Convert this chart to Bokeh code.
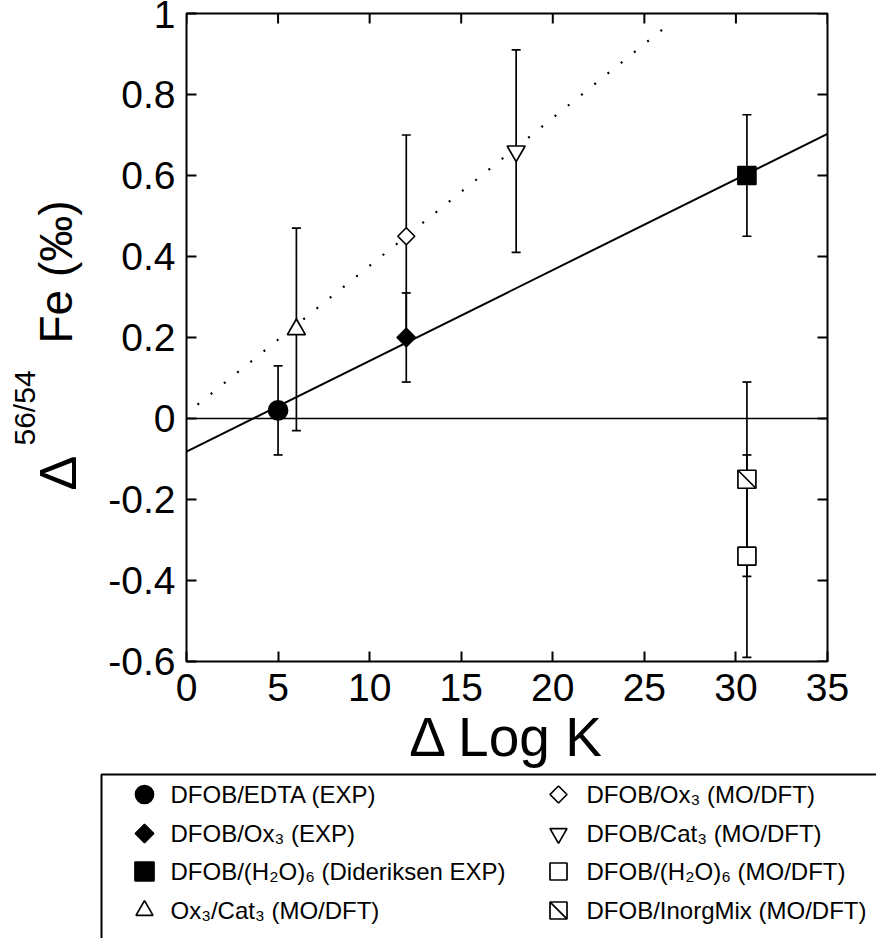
import math
from bokeh.plotting import figure
from bokeh.models import (ColumnDataSource, Range1d, FixedTicker, Whisker, TeeHead, Span)
from bokeh.layouts import column, row
from bokeh.core.properties import value
from bokeh.embed import file_html
from bokeh.resources import INLINE

FONT = "Liberation Sans"

# ---------------- data ----------------
series_names = [
    "DFOB/EDTA (EXP)",
    "DFOB/Ox\u2083 (EXP)",
    "DFOB/(H\u2082O)\u2086 (Dideriksen EXP)",
    "Ox\u2083/Cat\u2083 (MO/DFT)",
    "DFOB/Ox\u2083 (MO/DFT)",
    "DFOB/Cat\u2083 (MO/DFT)",
    "DFOB/(H\u2082O)\u2086 (MO/DFT)",
    "DFOB/InorgMix (MO/DFT)",
]
delta_logk = [5, 12, 30.6, 6, 12, 18, 30.6, 30.6]
delta_fe = [0.02, 0.20, 0.60, 0.22, 0.45, 0.66, -0.34, -0.15]
err_upper = [0.13, 0.31, 0.75, 0.47, 0.70, 0.91, -0.09, 0.09]
err_lower = [-0.09, 0.09, 0.45, -0.03, 0.20, 0.41, -0.59, -0.39]

# trend lines as drawn in the reference
exp_fit_x = [0, 35]
exp_fit_y = [-0.082, 0.703]
mo_fit_x = [0.6, 26.6]
mo_fit_y = [0.034, 0.983]

x_ticks = [0, 5, 10, 15, 20, 25, 30, 35]
x_tick_text = ["0", "5", "10", "15", "20", "25", "30", "35"]
y_ticks = [-0.6, -0.4, -0.2, 0, 0.2, 0.4, 0.6, 0.8, 1.0]
y_tick_text = ["-0.6", "-0.4", "-0.2", "0", "0.2", "0.4", "0.6", "0.8", "1"]

x_title = "\u0394 Log K"
y_title_parts = ["\u0394", "56/54", "Fe (\u2030)"]

# ---------------- marker styles ----------------
D45 = math.pi / 4
styles = [
    dict(marker="circle", size=19, fill="black", angle=0.0),
    dict(marker="square", size=13, fill="black", angle=D45),
    dict(marker="square", size=18, fill="black", angle=0.0),
    dict(marker="triangle", size=18, fill="white", angle=0.0),
    dict(marker="square", size=12, fill="white", angle=D45),
    dict(marker="inverted_triangle", size=18, fill="white", angle=0.0),
    dict(marker="square", size=18, fill="white", angle=0.0),
    dict(marker="square", size=18, fill="white", angle=0.0),
]
HATCHED = 7

# ---------------- layout constants (pixels) ----------------
W, H = 876, 938
LEFT_W = 95          # strip holding the y title
TOP_B, BOT_B = 13, 109
MAIN_H = 770
RIGHT_B = 49
Y0, Y1 = -0.6, 1.0
X0, X1 = 0, 35

yr = Range1d(Y0, Y1)

# ---------------- main plot ----------------
p = figure(width=W - LEFT_W, height=MAIN_H, x_range=Range1d(X0, X1), y_range=yr,
           toolbar_location=None, output_backend="svg",
           min_border_left=186 - LEFT_W, min_border_right=RIGHT_B,
           min_border_top=TOP_B, min_border_bottom=BOT_B)
p.background_fill_color = "white"
p.border_fill_color = "white"
p.outline_line_color = "black"
p.outline_line_width = 2
p.grid.visible = False

for ax, ticks, texts in ((p.xaxis[0], x_ticks, x_tick_text), (p.yaxis[0], y_ticks, y_tick_text)):
    ax.ticker = FixedTicker(ticks=ticks)
    ax.major_label_overrides = {t: s for t, s in zip(ticks, texts)}
    ax.major_label_text_font = FONT
    ax.major_label_text_font_size = "39px"
    ax.major_label_text_color = "black"
    ax.major_tick_in = 10
    ax.major_tick_out = 0
    ax.major_tick_line_width = 2
    ax.major_tick_line_color = "black"
    ax.minor_tick_line_color = None
    ax.axis_line_color = None
p.xaxis[0].major_label_standoff = 12
p.yaxis[0].major_label_standoff = 11

xa = p.xaxis[0]
xa.axis_label = x_title
xa.axis_label_text_font = FONT
xa.axis_label_text_font_size = "55px"
xa.axis_label_text_font_style = "normal"
xa.axis_label_text_color = "black"
xa.axis_label_standoff = 2

# inward ticks on the top and right edges (half of each dash is clipped by the frame)
p.scatter(x_ticks, [Y1] * len(x_ticks), marker="dash", angle=math.pi / 2, size=20,
          line_color="black", line_width=2)
p.scatter([X1] * len(y_ticks), y_ticks, marker="dash", size=20, line_color="black", line_width=2)

p.add_layout(Span(location=0, dimension="width", line_color="black", line_width=1.5))

err_src = ColumnDataSource(dict(base=delta_logk, upper=err_upper, lower=err_lower))
p.add_layout(Whisker(source=err_src, base="base", upper="upper", lower="lower",
                     dimension="height", line_color="black", line_width=1.7, level="underlay",
                     upper_head=TeeHead(size=9, line_width=1.7, line_color="black"),
                     lower_head=TeeHead(size=9, line_width=1.7, line_color="black")))

p.line(exp_fit_x, exp_fit_y, line_color="black", line_width=2)
p.line(mo_fit_x, mo_fit_y, line_color="black", line_width=2.2, line_dash="2 15")

for i, st in enumerate(styles):
    p.scatter([delta_logk[i]], [delta_fe[i]], marker=st["marker"], size=st["size"],
              angle=st["angle"], fill_color=st["fill"], line_color="black", line_width=1.7)
p.scatter([delta_logk[HATCHED]], [delta_fe[HATCHED]], marker="dash", size=24,
          angle=-D45, line_color="black", line_width=1.7)

# ---------------- left strip: y title ----------------
L = figure(width=LEFT_W, height=MAIN_H, x_range=Range1d(0, LEFT_W), y_range=yr,
           toolbar_location=None, output_backend="svg", x_axis_type=None, y_axis_type=None,
           min_border_left=0, min_border_right=0, min_border_top=TOP_B, min_border_bottom=BOT_B)
L.grid.visible = False
L.outline_line_color = None
L.background_fill_color = "white"
L.border_fill_color = "white"

frame_h = MAIN_H - TOP_B - BOT_B
def page_y_to_data(py):
    return Y1 - (py - TOP_B) * (Y1 - Y0) / frame_h

# rotated pieces: anchor = centre of the glyph height, start of the run along the axis
L.text([57], [page_y_to_data(490)], text=[y_title_parts[0]], angle=math.pi / 2,
       text_font=value(FONT), text_font_size="52px", text_align="left", text_baseline="middle")
L.text([24], [page_y_to_data(445)], text=[y_title_parts[1]], angle=math.pi / 2,
       text_font=value(FONT), text_font_size="30px", text_align="left", text_baseline="middle")
L.text([55], [page_y_to_data(343)], text=[y_title_parts[2]], angle=math.pi / 2,
       text_font=value(FONT), text_font_size="46px", text_align="left", text_baseline="middle")

# ---------------- bottom strip: legend ----------------
BH = H - MAIN_H
B = figure(width=W, height=BH, x_range=Range1d(0, W), y_range=Range1d(BH, 0),
           toolbar_location=None, output_backend="svg", x_axis_type=None, y_axis_type=None,
           min_border=0)
B.grid.visible = False
B.outline_line_color = None
B.background_fill_color = "white"
B.border_fill_color = "white"

leg_top = 774 - MAIN_H
B.line([101, 101, W + 5], [BH + 5, leg_top, leg_top], line_color="black", line_width=2)

row_y = [794 - MAIN_H, 833 - MAIN_H, 871 - MAIN_H, 910 - MAIN_H]
leg_sizes = [18, 13, 19, 17, 12, 17, 17, 17]
for i, st in enumerate(styles):
    col, r = divmod(i, 4)
    mx = 144 if col == 0 else 558
    tx = 170 if col == 0 else 586
    yy = row_y[r]
    B.scatter([mx], [yy], marker=st["marker"], size=leg_sizes[i], angle=st["angle"],
              fill_color=st["fill"], line_color="black", line_width=1.7)
    if i == HATCHED:
        B.scatter([mx], [yy], marker="dash", size=23, angle=-D45, line_color="black", line_width=1.7)
    B.text([tx], [yy], text=[series_names[i]], text_font=value(FONT), text_font_size="24px",
           text_align="left", text_baseline="middle", text_color="black")

layout = column(row(L, p, spacing=0), B, spacing=0)
open("out.html", "w").write(file_html(layout, INLINE))
